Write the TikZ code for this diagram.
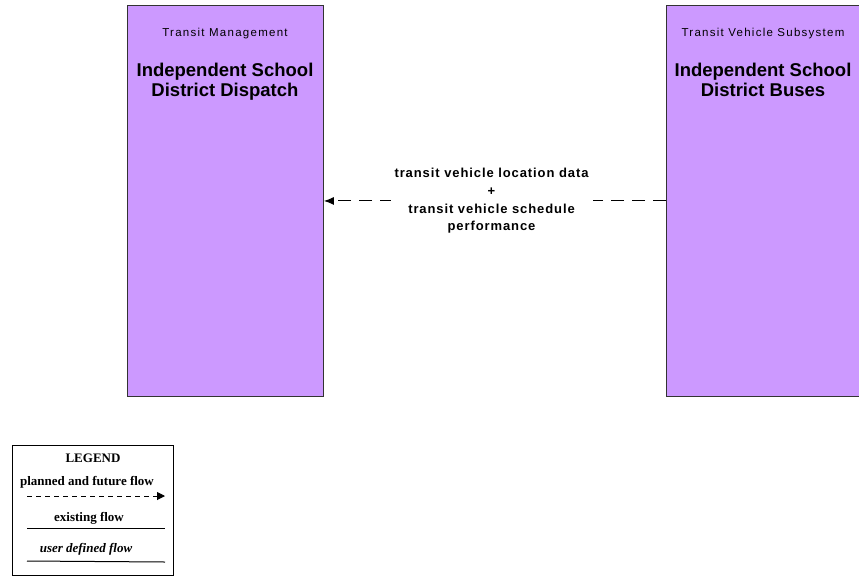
\documentclass[tikz,border=0pt]{standalone}
\usepackage{fontspec}
\setmainfont{Liberation Sans}
\newfontfamily\classfont[LetterSpace=11]{Liberation Sans}
\newfontfamily\flowfont[LetterSpace=7]{Liberation Sans}
\newfontfamily\legendfont{Liberation Serif}
\usepackage{tikz}
\usetikzlibrary{arrows.meta, positioning}
\definecolor{sysfill}{RGB}{204,153,255}

\tikzset{
  sysbox/.style={draw=black!80, fill=sysfill, line width=0.9pt,
    minimum width=196pt, minimum height=391pt, inner sep=0pt,
    anchor=north west},
  classtxt/.style={font=\classfont\fontsize{11.5}{13}\selectfont},
  nametxt/.style={font=\fontsize{18.5}{19.5}\selectfont\bfseries,
    align=center},
  flowtxt/.style={font=\flowfont\fontsize{13}{17.7}\selectfont\bfseries,
    align=center, fill=white, inner sep=4pt},
  plannedflow/.style={line width=1pt, dash pattern=on 13pt off 8pt,
    -{Latex[length=10pt,width=8pt]}},
  legtxt/.style={font=\legendfont\fontsize{13}{15}\selectfont\bfseries,
    inner sep=0pt}
}

\begin{document}
\begin{tikzpicture}[x=1pt, y=-1pt]
  \useasboundingbox (0,0) rectangle (859,576);
  \clip (0,0) rectangle (859,576);

  % subsystems
  \node[sysbox] (dispatch) at (127,5) {};
  \node[sysbox] (buses) at (666,5) {};

  \node[classtxt] (dispatchcls) at (225,34) {Transit Management};
  \node[nametxt, below=17pt of dispatchcls] (dispatchname)
    {Independent School\\District Dispatch};
  \node[classtxt] (busescls) at (763,34) {Transit Vehicle Subsystem};
  \node[nametxt, below=17pt of busescls] (busesname)
    {Independent School\\District Buses};

  % flow
  \draw[plannedflow] (buses.west) -- node[flowtxt, pos=0.51] (flowlbl)
    {transit vehicle location data\\+\\transit vehicle schedule\\performance}
    (dispatch.east);

  % legend
  \node[draw, line width=0.9pt, minimum width=161pt, minimum height=130pt,
        inner sep=0pt, anchor=north west] (legend) at (12,445) {};
  \node[legtxt] (legtitle) at (93,458) {LEGEND};
  \node[legtxt] (legplanned) at (87,482) {planned and future flow};
  \coordinate (plannedA) at (27,496);
  \coordinate (plannedB) at (165,496);
  \draw[line width=1pt, dash pattern=on 5pt off 4pt,
        -{Triangle[length=8pt,width=8pt]}] (plannedA) -- (plannedB);
  \node[legtxt] (legexisting) at (89,518) {existing flow};
  \coordinate (existingA) at (27,528);
  \coordinate (existingB) at (165,528);
  \draw[line width=1pt] (existingA) -- (existingB);
  \node[legtxt, font=\legendfont\fontsize{13}{15}\selectfont\bfseries\itshape]
    (leguser) at (86,549) {user defined flow};
  \coordinate (userA) at (27,561);
  \coordinate (userB) at (165,562);
  \draw[line width=1pt] (userA) -- (userB);
\end{tikzpicture}
\end{document}
